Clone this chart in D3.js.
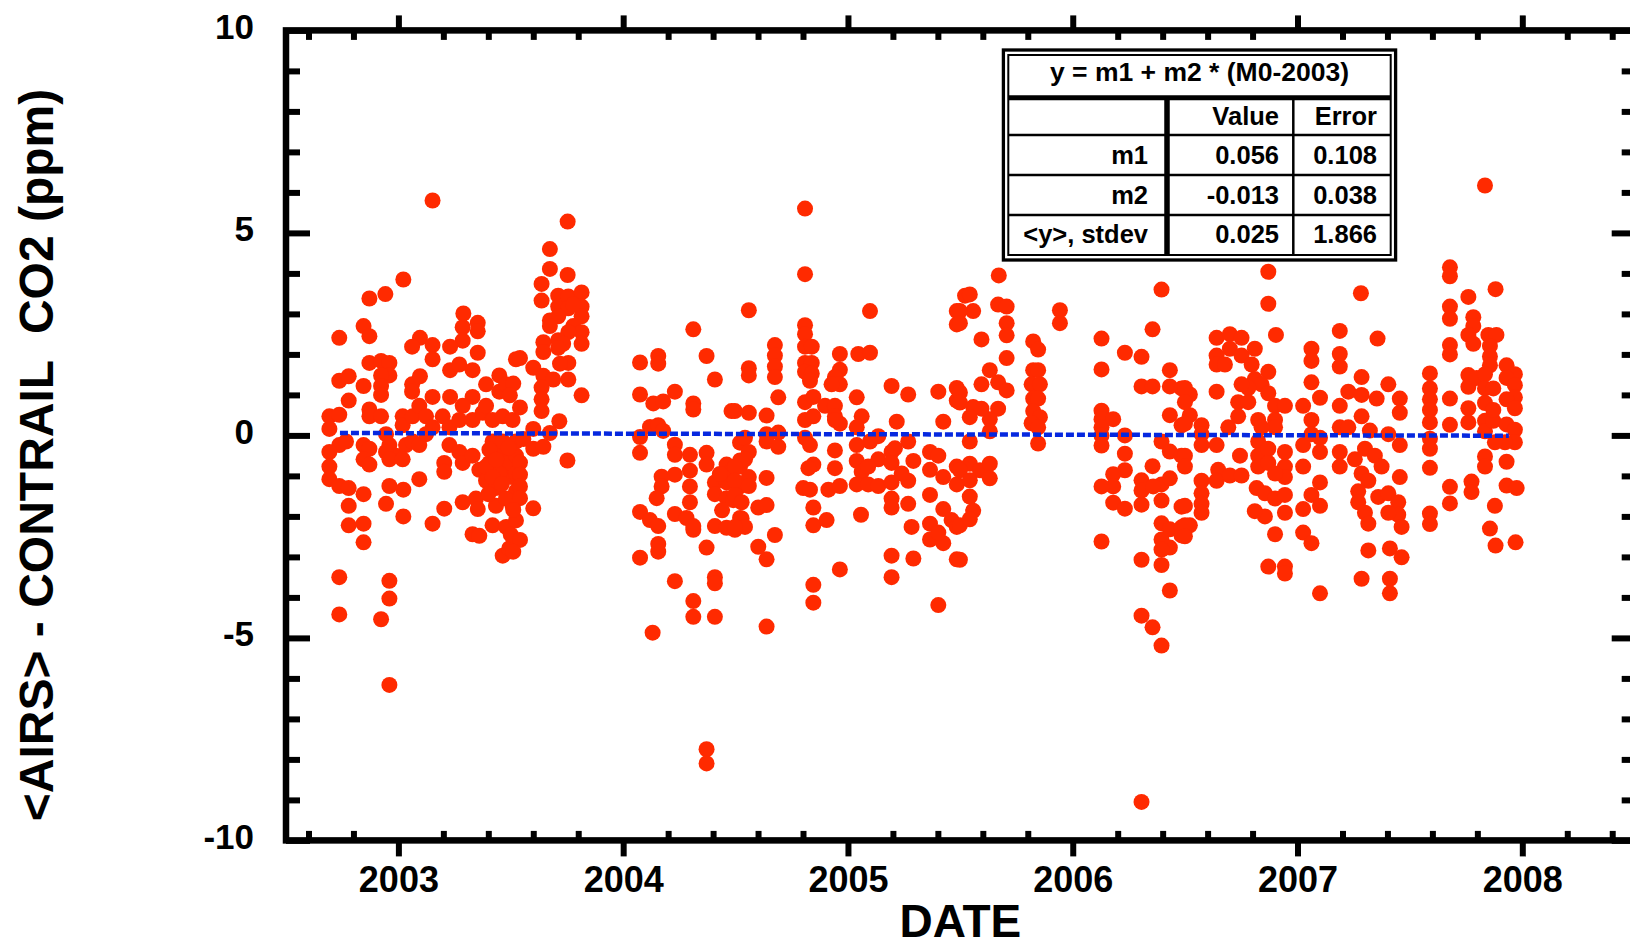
<!DOCTYPE html>
<html>
<head>
<meta charset="utf-8">
<script src="https://cdn.jsdelivr.net/npm/d3@7"></script>
<style>
  html, body { margin: 0; padding: 0; background: #fff; }
  svg { display: block; font-family: "Liberation Sans", Arial, Helvetica, sans-serif; font-weight: bold; }
</style>
</head>
<body>
<svg id="chart" width="1630" height="947"></svg>
<script>
// ---------------------------------------------------------------
// Monthly-flight comparison: <AIRS> - CONTRAIL CO2 difference (ppm)
// Each entry: [decimal date, difference in ppm]
// ---------------------------------------------------------------
const obs2003 = [
  [2003.152,5.80],[2003.022,3.85],[2002.942,3.49],[2002.871,3.38],[2002.845,2.70],[2002.871,2.45],[2002.737,2.41],
  [2003.289,3.01],[2003.353,2.78],[2003.286,2.67],[2003.286,2.34],[2003.353,2.57],[2003.096,2.41],[2003.061,2.19],
  [2003.152,2.23],[2003.152,1.88],[2003.230,2.19],[2003.353,2.04],
  [2002.871,1.79],[2002.923,1.84],[2002.960,1.79],[2002.960,1.48],[2002.923,1.48],[2002.737,1.35],[2002.779,1.46],
  [2002.845,1.22],[2002.923,1.22],[2002.923,1.00],[2002.779,0.86],
  [2003.061,1.26],[2003.096,1.46],[2003.061,1.08],[2003.230,1.61],[2003.271,1.75],[2003.330,1.61],[2003.390,1.26],
  [2003.449,1.48],[2003.523,1.88],[2003.152,0.95],[2003.230,0.95],[2003.330,0.95],[2003.449,1.08],[2003.479,1.26],
  [2002.693,0.47],[2002.737,0.51],[2002.693,0.16],[2002.871,0.64],[2002.871,0.47],[2002.923,0.47],[2003.019,0.47],
  [2003.019,0.25],[2003.063,0.47],[2003.093,0.73],[2003.123,0.47],[2003.152,0.20],[2003.197,0.47],[2003.227,0.20],
  [2003.271,0.38],[2003.286,0.73],[2003.330,0.38],[2003.375,0.56],[2003.390,0.73],[2003.419,0.38],[2003.464,0.47],
  [2003.508,0.38],
  [2002.945,0.03],[2002.960,-0.24],[2002.989,-0.50],[2003.034,-0.24],[2002.737,-0.24],[2002.767,-0.15],[2002.693,-0.41],
  [2002.693,-0.77],[2002.693,-1.08],[2002.737,-1.25],[2002.779,-1.30],
  [2002.845,-0.24],[2002.871,-0.33],[2002.845,-0.59],[2002.871,-0.72],[2002.945,-0.41],[2002.960,-0.59],[2003.019,-0.59],
  [2003.063,-0.15],[2003.093,-0.24],[2003.123,0.03],[2003.227,-0.24],[2003.204,-0.68],[2003.204,-0.90],[2003.093,-1.08],
  [2003.271,-0.41],[2003.286,-0.68],[2003.330,-0.50],[2003.360,-0.85],[2003.390,-1.12],[2003.434,-1.30],[2003.464,-0.85],
  [2003.479,-0.50],[2003.449,-0.32],[2003.493,-0.68],[2003.508,-1.03],[2003.523,-1.38],
  [2002.779,-1.74],[2002.845,-1.45],[2002.779,-2.22],[2002.845,-2.18],[2002.845,-2.64],[2002.945,-1.69],[2002.960,-1.25],
  [2003.022,-1.34],[2003.022,-2.00],[2003.152,-2.18],[2003.204,-1.81],[2003.286,-1.65],[2003.345,-1.56],[2003.353,-1.82],
  [2003.434,-1.74],[2003.330,-2.44],[2003.360,-2.48],[2003.419,-2.22],[2003.479,-2.26],[2003.464,-2.97],[2003.493,-2.79],
  [2002.737,-3.50],[2002.737,-4.42],[2002.960,-3.59],[2002.960,-4.03],[2002.923,-4.54],[2002.960,-6.16],
  [2003.419,-0.15],[2003.464,-0.15],[2003.523,-0.15],[2003.405,-0.68],[2003.449,-0.94],[2003.523,-0.50],[2003.523,-0.94],
  [2003.508,-1.74],[2003.479,-1.56],[2003.523,-2.10],[2003.390,-0.77],[2003.419,-1.03],
  [2003.405,-0.35],[2003.435,-0.60],[2003.490,-0.30],[2003.460,-1.20],[2003.400,-1.45],[2003.500,-2.45],
  [2003.753,5.28],[2003.674,4.60],[2003.674,4.11],[2003.753,3.96],[2003.637,3.74],[2003.637,3.33],
  [2003.711,3.45],[2003.711,3.18],[2003.756,3.43],[2003.815,3.53],[2003.815,3.18],[2003.756,3.14],[2003.815,2.94],
  [2003.711,2.94],[2003.778,3.23],[2003.778,2.70],[2003.815,2.55],[2003.815,2.26],[2003.756,2.55],[2003.711,2.35],
  [2003.733,2.26],
  [2003.674,2.84],[2003.674,2.70],[2003.645,2.30],[2003.645,2.06],[2003.711,2.16],[2003.756,1.79],[2003.719,1.77],
  [2003.756,1.38],[2003.815,0.99],
  [2003.541,1.91],[2003.600,1.67],[2003.645,1.47],[2003.689,1.38],[2003.637,1.18],[2003.637,0.89],[2003.637,0.60],
  [2003.511,1.28],[2003.496,0.99],[2003.541,0.69],
  [2003.716,0.35],[2003.674,0.06],[2003.600,0.16],[2003.556,-0.09],[2003.600,-0.33],[2003.645,-0.28],[2003.752,-0.62],
  [2003.541,-0.67],[2003.541,-0.97],[2003.541,-1.26],[2003.541,-1.55],[2003.511,-1.84],[2003.600,-1.80],[2003.541,-2.58],
  [2003.511,-2.87]
];

const obs2004 = [
  [2004.312,2.62],[2004.371,1.96],[2004.408,1.38],[2004.075,1.80],[2004.156,1.96],[2004.156,1.77],[2004.075,1.01],
  [2004.134,0.79],[2004.178,0.84],[2004.230,1.08],[2004.312,0.79],[2004.312,0.64],[2004.482,0.60],
  [2004.119,0.21],[2004.156,0.25],[2004.178,0.11],[2004.075,-0.04],[2004.075,-0.43],[2004.230,-0.23],[2004.230,-0.48],
  [2004.297,-0.48],[2004.371,-0.43],[2004.371,-0.72],
  [2004.297,-0.87],[2004.297,-1.26],[2004.230,-0.97],[2004.171,-1.02],[2004.171,-1.26],[2004.149,-1.55],[2004.297,-1.65],
  [2004.230,-1.94],[2004.282,-2.04],[2004.312,-2.33],[2004.312,-2.24],
  [2004.075,-1.89],[2004.119,-2.09],[2004.156,-2.24],[2004.156,-2.68],[2004.156,-2.87],[2004.075,-3.02],[2004.371,-2.77],
  [2004.408,-3.50],[2004.408,-3.65],[2004.230,-3.60],[2004.312,-4.09],[2004.312,-4.48],[2004.408,-4.48],[2004.131,-4.87],
  [2004.371,-7.75],[2004.371,-8.10],
  [2004.408,-1.16],[2004.408,-1.45],[2004.460,-0.72],[2004.460,-1.16],[2004.460,-1.55],[2004.482,-0.87],[2004.520,-0.77],
  [2004.520,-1.26],[2004.408,-2.24],[2004.460,-2.28],[2004.497,-2.33],[2004.520,-2.04],[2004.520,-0.18],[2004.520,-0.62],
  [2004.440,-1.85],[2004.490,-1.60],[2004.430,-0.95],
  [2004.809,5.60],[2004.809,3.98],[2004.559,3.09],
  [2004.809,2.72],[2004.809,2.50],[2004.809,2.19],[2004.839,2.19],[2004.809,1.79],[2004.839,1.79],[2004.809,1.57],
  [2004.839,1.53],[2004.831,1.35],
  [2004.675,2.23],[2004.675,1.97],[2004.675,1.70],[2004.675,1.44],[2004.559,1.66],[2004.559,1.48],[2004.690,0.94],
  [2004.964,2.01],[2004.964,1.62],[2004.942,1.44],[2004.964,1.26],[2004.927,1.26],
  [2004.497,0.60],[2004.559,0.56],[2004.638,0.49],[2004.809,0.82],[2004.846,0.95],[2004.809,0.38],[2004.846,0.47],
  [2004.898,0.73],[2004.942,0.73],[2004.942,0.47],[2004.964,0.29],[2004.942,0.38],
  [2004.638,0.03],[2004.638,-0.15],[2004.690,0.07],[2004.690,-0.28],[2004.542,-0.06],[2004.559,-0.41],[2004.542,-0.59],
  [2004.497,-0.77],[2004.497,-1.12],[2004.497,-1.47],[2004.559,-1.03],[2004.559,-1.25],[2004.638,-1.05],
  [2004.527,-1.65],[2004.601,-1.78],[2004.638,-1.72],[2004.527,-2.05],[2004.542,-2.26],[2004.497,-2.26],
  [2004.675,-2.46],[2004.601,-2.75],[2004.638,-3.06],
  [2004.809,-0.06],[2004.831,-0.24],[2004.846,-0.72],[2004.824,-0.81],[2004.801,-1.30],[2004.831,-1.34],[2004.846,-1.78],
  [2004.846,-2.22],[2004.905,-2.09],
  [2004.942,-0.37],[2004.942,-0.81],[2004.913,-1.34],[2004.964,-1.25],
  [2004.964,-3.31],[2004.846,-3.69],[2004.846,-4.13],[2004.638,-4.72]
];

const obs2005 = [
  [2005.098,3.07],[2005.521,3.45],[2005.484,3.07],[2005.484,2.74],
  [2005.046,2.01],[2005.098,2.04],[2005.039,0.94],[2005.194,1.22],[2005.268,1.01],[2005.402,1.08],[2005.484,1.17],
  [2005.484,0.86],
  [2005.061,0.47],[2005.039,0.20],[2005.098,-0.15],[2005.135,-0.02],[2005.217,0.34],[2005.424,0.34],
  [2005.039,-0.24],[2005.039,-0.63],[2005.061,-0.90],[2005.039,-1.21],[2005.090,-1.21],[2005.135,-0.59],[2005.135,-1.25],
  [2005.090,-0.77],[2005.058,-1.96],
  [2005.194,-0.41],[2005.209,-0.32],[2005.194,-0.68],[2005.194,-1.16],[2005.194,-1.56],[2005.194,-1.78],[2005.268,-0.15],
  [2005.268,-1.12],[2005.268,-1.69],[2005.291,-0.63],[2005.239,-0.94],
  [2005.365,-0.41],[2005.365,-0.85],[2005.365,-1.47],[2005.402,-0.50],[2005.424,-1.03],[2005.424,-1.82],[2005.365,-2.18],
  [2005.365,-2.57],[2005.424,-2.66],[2005.402,-2.40],[2005.461,-2.09],[2005.484,-2.26],[2005.484,-0.77],[2005.484,-1.21],
  [2005.283,-2.26],[2005.194,-2.97],[2005.194,-3.50],[2005.291,-3.04],[2005.484,-3.06],[2005.402,-4.19],
  [2005.671,3.95],[2005.542,3.48],[2005.557,3.07],[2005.498,3.07],[2005.498,2.77],[2005.668,3.23],[2005.706,3.18],
  [2005.706,2.77],[2005.706,2.47],[2005.594,2.37],[2005.706,1.91],[2005.943,3.09],[2005.943,2.77],
  [2005.824,2.32],[2005.846,2.12],[2005.824,1.61],[2005.846,1.61],[2005.817,1.26],[2005.854,1.26],[2005.824,0.91],
  [2005.846,0.91],[2005.824,0.60],[2005.854,0.45],[2005.817,0.30],[2005.846,0.20],[2005.846,-0.20],
  [2005.631,1.61],[2005.594,1.26],[2005.668,1.31],[2005.706,1.11],[2005.668,0.66],[2005.631,0.40],[2005.594,0.66],
  [2005.557,0.70],[2005.542,0.45],[2005.498,1.06],[2005.498,0.81],[2005.631,0.10],
  [2005.542,-0.15],[2005.542,-0.70],[2005.587,-0.86],[2005.631,-0.70],[2005.631,-1.06],[2005.498,-0.86],[2005.542,-1.11],
  [2005.542,-1.51],[2005.557,-1.86],[2005.498,-2.22],[2005.542,-2.07],[2005.498,-3.07]
];

const obs2006 = [
  [2006.395,3.60],[2006.355,2.62],[2006.128,2.39],[2006.128,1.63],[2006.232,2.04],[2006.306,1.94],[2006.306,1.21],
  [2006.355,1.21],
  [2006.432,1.61],[2006.432,1.21],[2006.484,1.16],[2006.432,0.50],[2006.484,0.25],[2006.521,1.01],[2006.521,0.50],
  [2006.128,0.61],[2006.128,0.40],[2006.128,0.20],[2006.128,0.00],[2006.128,-0.25],[2006.180,0.40],
  [2006.232,0.00],[2006.232,-0.45],[2006.232,-0.86],[2006.180,-0.96],[2006.180,-1.26],[2006.180,-1.66],[2006.128,-1.26],
  [2006.232,-1.81],[2006.128,-2.62],
  [2006.306,-1.11],[2006.306,-1.36],[2006.355,-0.76],[2006.395,-0.15],[2006.395,-1.21],[2006.395,-1.61],[2006.432,-0.40],
  [2006.432,-1.06],[2006.484,-0.50],[2006.306,-1.71],[2006.358,-1.26],
  [2006.395,-2.17],[2006.432,-2.32],[2006.395,-2.57],[2006.432,-2.77],[2006.395,-2.82],[2006.484,-2.27],[2006.484,-2.47],
  [2006.521,-2.22],[2006.484,-1.76],
  [2006.306,-3.07],[2006.395,-3.20],[2006.432,-3.83],[2006.306,-4.45],[2006.355,-4.74],[2006.395,-5.19],[2006.306,-9.05],
  [2006.870,4.04],[2006.870,3.25],[2006.904,2.48],
  [2006.640,2.41],[2006.699,2.50],[2006.751,2.41],[2006.640,1.97],[2006.640,1.75],[2006.677,1.75],[2006.699,2.14],
  [2006.751,1.97],[2006.810,2.14],[2006.796,1.75],[2006.870,1.57],[2006.810,1.39],[2006.840,1.26],[2006.781,1.17],
  [2006.751,1.26],[2006.640,1.08],[2006.870,1.04],[2006.736,0.82],[2006.781,0.82],[2006.736,0.47],[2006.692,0.20],
  [2006.825,0.38],[2006.900,0.73],[2006.944,0.73],[2006.900,0.38],[2006.900,0.20],[2006.840,0.20],
  [2006.499,1.17],[2006.499,0.82],[2006.499,0.29],[2006.573,0.25],[2006.573,0.03],[2006.499,-0.50],[2006.499,-0.77],
  [2006.499,-1.74],[2006.499,-2.22],[2006.499,-2.49],
  [2006.640,-0.24],[2006.573,-0.24],[2006.573,-1.12],[2006.573,-1.43],[2006.573,-1.69],[2006.573,-1.91],[2006.647,-0.85],
  [2006.640,-1.12],[2006.699,-0.99],[2006.751,-0.99],[2006.744,-0.50],
  [2006.825,-0.15],[2006.825,-0.50],[2006.825,-0.77],[2006.870,-0.33],[2006.870,-0.68],[2006.944,-0.41],[2006.944,-0.77],
  [2006.944,-1.03],[2006.900,-0.94],[2006.818,-1.30],[2006.855,-1.43],[2006.900,-1.56],[2006.944,-1.47],[2006.944,-1.91],
  [2006.855,-2.00],[2006.900,-2.44],[2006.810,-1.87],
  [2006.870,-3.24],[2006.944,-3.24],[2006.944,-3.41]
];

const obs2007 = [
  [2007.282,3.51],[2007.356,2.39],[2007.188,2.58],[2007.188,2.01],[2007.188,1.70],[2007.062,2.14],[2007.062,1.84],
  [2007.062,1.31],[2007.100,0.93],[2007.025,0.73],
  [2007.025,-0.24],[2007.025,-0.77],[2007.062,0.38],[2007.062,0.03],[2007.100,-0.06],[2007.100,-0.41],[2007.100,-1.16],
  [2007.062,-1.47],[2007.100,-1.74],[2007.025,-1.82],[2007.025,-2.40],[2007.062,-2.66],[2007.100,-3.90],
  [2007.188,0.73],[2007.226,1.08],[2007.285,1.44],[2007.285,1.00],[2007.352,0.91],[2007.404,1.26],[2007.455,0.91],
  [2007.455,0.56],[2007.188,0.20],[2007.226,0.20],[2007.285,0.47],[2007.322,0.12],[2007.404,0.03],[2007.455,-0.24],
  [2007.188,-0.41],[2007.188,-0.77],[2007.255,-0.59],[2007.300,-0.33],[2007.344,-0.50],[2007.374,-0.77],[2007.285,-0.94],
  [2007.315,-1.12],[2007.270,-1.38],[2007.270,-1.65],[2007.300,-1.91],[2007.359,-1.52],[2007.404,-1.43],[2007.448,-1.65],
  [2007.448,-1.96],[2007.404,-1.91],[2007.463,-2.26],[2007.315,-2.18],[2007.315,-2.84],[2007.411,-2.79],[2007.463,-3.01],
  [2007.285,-3.54],[2007.411,-3.54],[2007.411,-3.90],[2007.455,-1.03],
  [2007.834,6.17],[2007.678,4.15],[2007.678,3.93],[2007.881,3.61],[2007.760,3.42],[2007.678,3.18],[2007.678,2.88],
  [2007.782,2.92],[2007.782,2.70],[2007.760,2.48],[2007.782,2.26],[2007.678,2.23],[2007.678,2.00],
  [2007.849,2.48],[2007.885,2.48],[2007.856,2.21],[2007.856,1.95],[2007.856,1.73],
  [2007.589,1.53],[2007.589,1.16],[2007.589,0.89],[2007.589,0.63],[2007.589,0.32],[2007.589,-0.08],[2007.589,-0.33],
  [2007.589,-0.80],[2007.589,-1.93],[2007.589,-2.19],
  [2007.678,0.91],[2007.678,0.26],[2007.678,-1.27],[2007.678,-1.68],
  [2007.760,1.49],[2007.760,1.20],[2007.797,1.42],[2007.760,0.67],[2007.760,0.32],
  [2007.834,1.51],[2007.834,1.16],[2007.871,1.16],[2007.834,0.80],[2007.834,0.36],[2007.834,0.10],[2007.871,0.36],
  [2007.871,0.63],[2007.930,1.73],[2007.967,1.51],[2007.930,1.42],[2007.967,1.24],[2007.967,0.94],[2007.930,0.89],
  [2007.967,0.67],[2007.930,0.27],[2007.967,0.14],[2007.967,-0.17],[2007.923,-0.17],[2007.878,-0.17],[2007.930,-0.65],
  [2007.834,-0.52],[2007.834,-0.77],[2007.930,-1.24],[2007.975,-1.30],[2007.774,-1.14],[2007.774,-1.40],[2007.878,-1.74],
  [2007.856,-2.30],[2007.881,-2.72],[2007.970,-2.64]
];

// Linear fit summary: y = m1 + m2 * (M0 - 2003)
const fitTitle = "y = m1 + m2 * (M0-2003)";
const fitHeader = ["", "Value", "Error"];
const fitRows = [
  ["m1", "0.056", "0.108"],
  ["m2", "-0.013", "0.038"],
  ["<y>, stdev", "0.025", "1.866"]
];
const fitSpan = [2002.74, 2007.94];   // dates covered by the fitted line

// Axis settings
const xDomain = [2002.5, 2008.5];
const yDomain = [-10, 10];
const xMajorTicks = [2003, 2004, 2005, 2006, 2007, 2008];
const yMajorTicks = [-10, -5, 0, 5, 10];

// ---------------------------------------------------------------
const svg = d3.select("#chart");
const plot = { left: 286, right: 1634.7, top: 30.4, bottom: 840.4 };
const RED = "#ff2a00", BLUE = "#0628df";

const x = d3.scaleLinear().domain(xDomain).range([plot.left, plot.right]);
const y = d3.scaleLinear().domain(yDomain).range([plot.bottom, plot.top]);

const xMinorTicks = d3.range(2002.6, 2008.45, 0.2).map(v => +v.toFixed(1)).filter(v => !Number.isInteger(v));
const yMinorTicks = d3.range(-9, 10, 1).filter(v => v % 5 !== 0);
const plainNumber = d => String(d);   // hyphen-minus, as printed on the axes

// scatter points
const allObs = [].concat(obs2003, obs2004, obs2005, obs2006, obs2007);
svg.append("g")
  .selectAll("circle")
  .data(allObs)
  .join("circle")
  .attr("cx", d => x(d[0]))
  .attr("cy", d => y(d[1]))
  .attr("r", 8)
  .attr("fill", RED);

// fitted line
const m1 = +fitRows[0][1], m2 = +fitRows[1][1];
svg.append("path")
  .datum(fitSpan)
  .attr("d", d3.line().x(t => x(t)).y(t => y(m1 + m2 * (t - 2003))))
  .attr("fill", "none")
  .attr("stroke", BLUE)
  .attr("stroke-width", 4.5)
  .attr("stroke-dasharray", "8,3");

// axes
function finish(g, fontSize) {
  g.attr("font-family", null).attr("font-size", fontSize || null);
  g.select(".domain").remove();
  g.selectAll(".tick line").attr("stroke", "#000").attr("stroke-width", 6);
  g.selectAll(".tick text").attr("fill", "#000");
}

// left
svg.append("g").attr("transform", `translate(${plot.left},0)`)
  .call(d3.axisLeft(y).tickValues(yMajorTicks).tickSize(-24).tickPadding(32).tickFormat(plainNumber))
  .call(g => finish(g, 35))
  .call(g => g.selectAll(".tick text").attr("dy", "0.22em"));
svg.append("g").attr("transform", `translate(${plot.left},0)`)
  .call(d3.axisLeft(y).tickValues(yMinorTicks).tickSize(-14).tickFormat(""))
  .call(g => finish(g));
// right
svg.append("g").attr("transform", `translate(${plot.right},0)`)
  .call(d3.axisRight(y).tickValues(yMajorTicks).tickSize(-23).tickFormat(""))
  .call(g => finish(g));
svg.append("g").attr("transform", `translate(${plot.right},0)`)
  .call(d3.axisRight(y).tickValues(yMinorTicks).tickSize(-13).tickFormat(""))
  .call(g => finish(g));
// bottom
svg.append("g").attr("transform", `translate(0,${plot.bottom})`)
  .call(d3.axisBottom(x).tickValues(xMajorTicks).tickSize(16).tickPadding(9.6).tickFormat(plainNumber))
  .call(g => finish(g, 36));
svg.append("g").attr("transform", `translate(0,${plot.bottom})`)
  .call(d3.axisBottom(x).tickValues(xMinorTicks).tickSize(-9.5).tickFormat(""))
  .call(g => finish(g));
// top
svg.append("g").attr("transform", `translate(0,${plot.top})`)
  .call(d3.axisTop(x).tickValues(xMajorTicks).tickSize(15).tickFormat(""))
  .call(g => finish(g));
svg.append("g").attr("transform", `translate(0,${plot.top})`)
  .call(d3.axisTop(x).tickValues(xMinorTicks).tickSize(-9.5).tickFormat(""))
  .call(g => finish(g));

// frame
svg.append("rect")
  .attr("x", plot.left).attr("y", plot.top)
  .attr("width", plot.right - plot.left).attr("height", plot.bottom - plot.top)
  .attr("fill", "none").attr("stroke", "#000").attr("stroke-width", 6.5);

// axis titles
svg.append("text")
  .attr("x", (plot.left + plot.right) / 2).attr("y", 937)
  .attr("text-anchor", "middle").attr("font-size", 46)
  .text("DATE");
svg.append("text")
  .attr("transform", "translate(53,455) rotate(-90)")
  .attr("text-anchor", "middle").attr("font-size", 48)
  .style("white-space", "pre")
  .text("<AIRS> - CONTRAIL  CO2 (ppm)");

// fit summary table
const tb = { left: 1003.4, top: 50, right: 1395.6, bottom: 260,
             inL: 1008.3, inT: 55, inR: 1390.7, inB: 255,
             titleLine: 97.8, rowLines: [135, 175, 215],
             col1: 1167, col2: 1293.3,
             anchors: [1148, 1279, 1377] };
const tg = svg.append("g");
tg.append("rect").attr("x", tb.left).attr("y", tb.top)
  .attr("width", tb.right - tb.left).attr("height", tb.bottom - tb.top)
  .attr("fill", "#fff").attr("stroke", "#000").attr("stroke-width", 3.3);
tg.append("rect").attr("x", tb.inL).attr("y", tb.inT)
  .attr("width", tb.inR - tb.inL).attr("height", tb.inB - tb.inT)
  .attr("fill", "none").attr("stroke", "#000").attr("stroke-width", 2);
tg.append("line").attr("x1", tb.inL).attr("x2", tb.inR).attr("y1", tb.titleLine).attr("y2", tb.titleLine)
  .attr("stroke", "#000").attr("stroke-width", 5);
tb.rowLines.forEach(yy => tg.append("line").attr("x1", tb.inL).attr("x2", tb.inR).attr("y1", yy).attr("y2", yy)
  .attr("stroke", "#000").attr("stroke-width", 2.5));
tg.append("line").attr("x1", tb.col1).attr("x2", tb.col1).attr("y1", tb.titleLine).attr("y2", tb.inB)
  .attr("stroke", "#000").attr("stroke-width", 5.5);
tg.append("line").attr("x1", tb.col2).attr("x2", tb.col2).attr("y1", tb.titleLine).attr("y2", tb.inB)
  .attr("stroke", "#000").attr("stroke-width", 2.5);

tg.append("text").attr("x", (tb.inL + tb.inR) / 2).attr("y", 81)
  .attr("text-anchor", "middle").attr("font-size", 26.5).text(fitTitle);
const rowBaselines = [125, 164, 203.5, 242.5];
[fitHeader].concat(fitRows).forEach((row, i) => {
  row.forEach((cell, j) => {
    tg.append("text").attr("x", tb.anchors[j]).attr("y", rowBaselines[i])
      .attr("text-anchor", "end").attr("font-size", 25.5)
      .style("white-space", "pre").text(cell);
  });
});
</script>
</body>
</html>
